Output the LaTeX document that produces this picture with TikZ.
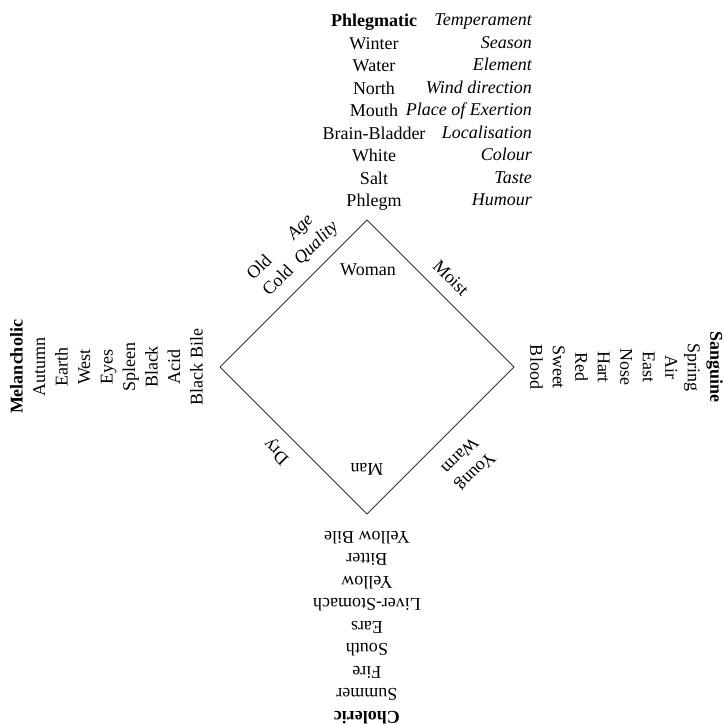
\documentclass[tikz,border=0pt]{standalone}
\usepackage{fontspec}
\setmainfont{Liberation Serif}
\usetikzlibrary{positioning}

\begin{document}
\begin{tikzpicture}[
  x=1pt,y=1pt,
  entry/.style={font=\fontsize{18}{22.5}\selectfont,inner sep=0pt,align=center},
  kind/.style={entry,font=\fontsize{18}{22.5}\selectfont\itshape,align=right},
  side/.style={draw=black!80,line width=.8pt}
]
\useasboundingbox (-367,-357) rectangle (357,367);

% the four qualities square
\coordinate (top) at (0,147);
\coordinate (rgt) at (147,0);
\coordinate (bot) at (0,-147);
\coordinate (lft) at (-147,0);
\draw[side] (top) -- (rgt) -- (bot) -- (lft) -- cycle;

% Phlegmatic, upright
\node[entry,anchor=north] (phlegmatic) at (7,353)
  {\textbf{Phlegmatic}\\Winter\\Water\\North\\Mouth\\Brain-Bladder\\White\\Salt\\Phlegm};
\node[kind,anchor=north east] (kinds) at (165,353)
  {Temperament\\Season\\Element\\Wind direction\\Place of Exertion\\Localisation\\Colour\\Taste\\Humour};

% Sanguine, Choleric and Melancholic turned round the square
\node[entry,rotate=-90,anchor=north] (sanguine) at (356,0)
  {\textbf{Sanguine}\\Spring\\Air\\East\\Nose\\Hart\\Red\\Sweet\\Blood};
\node[entry,rotate=180,anchor=north] (choleric) at (0,-357)
  {\textbf{Choleric}\\Summer\\Fire\\South\\Ears\\Liver-Stomach\\Yellow\\Bitter\\Yellow Bile};
\node[entry,rotate=90,anchor=north] (melancholic) at (-357,0)
  {\textbf{Melancholic}\\Autumn\\Earth\\West\\Eyes\\Spleen\\Black\\Acid\\Black Bile};

% sides and corners
\node[entry] (woman) at (1,97) {Woman};
\node[entry,rotate=180] (man) at (0,-102) {Man};
\node[entry,rotate=-45] (moist) at (84,89) {Moist};
\node[entry,rotate=135] (dry) at (-90,-84) {Dry};
\node[entry,rotate=-135] (young) at (101,-97) {Young\\Warm};
\node[entry,rotate=45] (old) at (-74,116)
  {\begin{tabular}{@{}l@{\hspace{9pt}}c@{}}Old & \textit{Age}\\Cold & \textit{Quality}\end{tabular}};
\end{tikzpicture}
\end{document}
